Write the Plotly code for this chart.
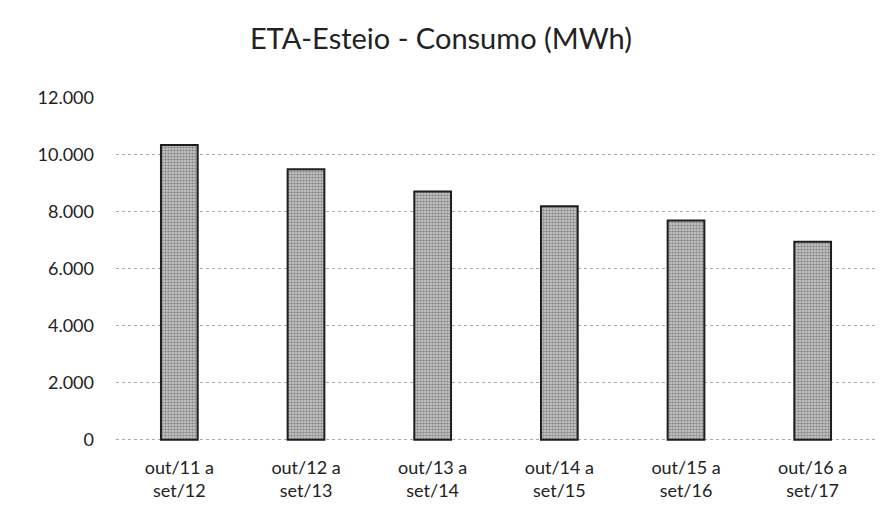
import plotly.graph_objects as go

# periodos (out a set) e consumo anual em MWh
periodos = ["out/11 a<br>set/12", "out/12 a<br>set/13", "out/13 a<br>set/14",
            "out/14 a<br>set/15", "out/15 a<br>set/16", "out/16 a<br>set/17"]
consumo = [10350, 9500, 8720, 8200, 7700, 6950]
y_ticks = [0, 2000, 4000, 6000, 8000, 10000, 12000]

fonte = "Lato, 'Open Sans', sans-serif"

trace = go.Bar(
    x=periodos,
    y=consumo,
    marker=dict(
        color="#a8a8a8",
        line=dict(color="#1e1e1e", width=2),
        pattern=dict(shape=".", size=3, solidity=0.55,
                     fgcolor="#4a4a4a", bgcolor="#cfcfcf"),
    ),
    showlegend=False,
)

layout = go.Layout(
    title=dict(text="ETA-Esteio - Consumo (MWh)", x=0.487, xanchor="center",
               y=0.94, yanchor="middle",
               font=dict(family=fonte, size=29, color="#222222")),
    width=889, height=508,
    margin=dict(l=108, r=21, t=90, b=75),
    paper_bgcolor="white", plot_bgcolor="white",
    separators=",.",
    bargap=0.71,
    xaxis=dict(tickfont=dict(family=fonte, size=18, color="#222222"),
               showgrid=False, showline=False, ticks="outside",
               ticklen=10, tickcolor="white"),
    yaxis=dict(range=[-40, 12000], tickvals=y_ticks, tickformat=",d",
               tickfont=dict(family=fonte, size=18, color="#222222"),
               showgrid=True, gridcolor="#aaaaaa", griddash="dot", gridwidth=1,
               zeroline=False, showline=False, ticks="", ticklen=0,
               ticklabelstandoff=21),
)

fig = go.Figure(data=[trace], layout=layout)
fig.write_html("out.html")
